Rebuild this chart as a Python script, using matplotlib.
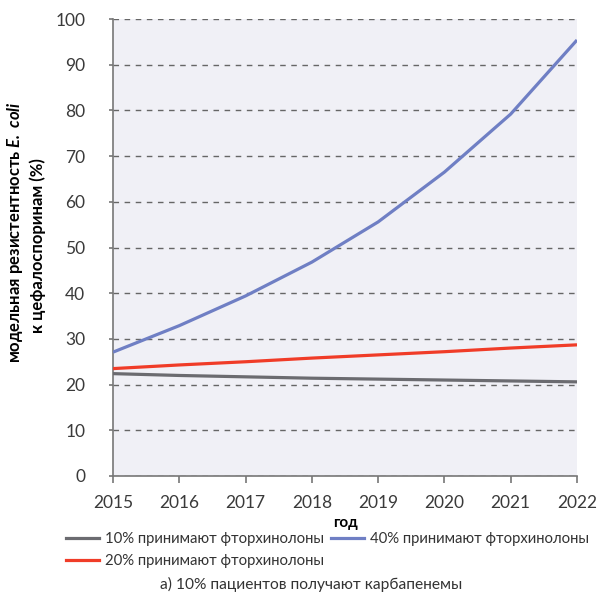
import matplotlib.pyplot as plt
from matplotlib.lines import Line2D

plt.rcParams['font.family'] = ['Lato', 'DejaVu Sans']
plt.rcParams['mathtext.fontset'] = 'custom'
plt.rcParams['mathtext.bfit'] = 'Lato:italic:bold'
plt.rcParams['mathtext.it'] = 'Lato:italic'

years = [2015, 2016, 2017, 2018, 2019, 2020, 2021, 2022]
fq_10 = [22.4, 22.0, 21.7, 21.4, 21.2, 21.0, 20.8, 20.6]
fq_20 = [23.5, 24.3, 25.0, 25.8, 26.5, 27.2, 28.0, 28.7]
fq_40 = [27.1, 32.9, 39.4, 46.8, 55.6, 66.5, 79.2, 95.4]

series_labels = [
    "10% принимают фторхинолоны",
    "20% принимают фторхинолоны",
    "40% принимают фторхинолоны",
]
colors = ["#6b6b70", "#f03c28", "#6f7fc4"]

fig = plt.figure(figsize=(6.01, 5.96), dpi=100)
ax = fig.add_axes([113 / 601, 1 - 476 / 596, (577 - 113) / 601, (476 - 19) / 596])
ax.set_facecolor("#f0f0f6")

for vals, c in zip([fq_10, fq_20, fq_40], colors):
    ax.plot(years, vals, color=c, lw=2.3, solid_capstyle="butt", zorder=3)

ax.set_xlim(2015, 2022)
ax.set_ylim(0, 100)
ax.set_xticks(years)
ax.set_yticks(range(0, 101, 10))
ax.yaxis.grid(True, ls=(0, (4, 4)), color="#666666", lw=1.0)
ax.set_axisbelow(True)
for side in ("top", "right"):
    ax.spines[side].set_visible(False)
for side in ("left", "bottom"):
    ax.spines[side].set_color("#777777")
    ax.spines[side].set_linewidth(1.2)
ax.tick_params(axis="both", colors="#777777", labelcolor="#3a3a3a", labelsize=12.5, width=1.2)
ax.tick_params(axis="x", length=5, pad=9)
ax.tick_params(axis="y", length=3, pad=17)

ax.set_xlabel("год", fontweight="bold", fontsize=11, labelpad=3)

fig.text(15 / 601, 1 - 232 / 596, r"модельная резистентность $\mathbfit{E.\ coli}$",
         rotation=90, ha="center", va="center", fontsize=12, fontweight="bold")
fig.text(38 / 601, 1 - 246 / 596, "к цефалоспоринам (%)",
         rotation=90, ha="center", va="center", fontsize=12, fontweight="bold")

handles = [Line2D([], [], color=c, lw=2.3) for c in colors]
leg = fig.legend(handles, series_labels, ncol=2, loc="upper left",
                 bbox_to_anchor=(66 / 601, 1 - 532 / 596), frameon=False,
                 fontsize=10.7, handlelength=2.2, handletextpad=0.4,
                 columnspacing=0.5, labelspacing=0.55, borderaxespad=0,
                 borderpad=0)
for t in leg.get_texts():
    t.set_color("#333333")

fig.text(311 / 601, 1 - 584 / 596, "а) 10% пациентов получают карбапенемы",
         ha="center", va="center", fontsize=11.2, color="#333333")

fig.savefig("out.png", dpi=100)
